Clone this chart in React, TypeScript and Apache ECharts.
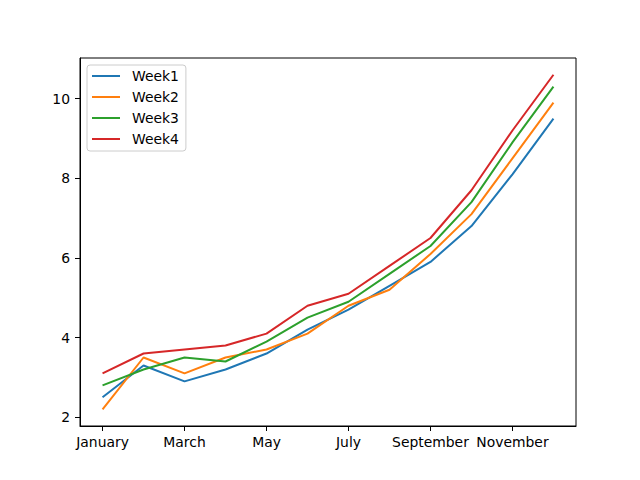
import React, { useEffect, useRef } from "react";
import * as echarts from "echarts";

const months = [
  "January", "February", "March", "April", "May", "June",
  "July", "August", "September", "October", "November", "December",
];
const seriesNames = ["Week1", "Week2", "Week3", "Week4"];
const week1 = [2.5, 3.3, 2.9, 3.2, 3.6, 4.2, 4.7, 5.3, 5.9, 6.8, 8.1, 9.5];
const week2 = [2.2, 3.5, 3.1, 3.5, 3.7, 4.1, 4.8, 5.2, 6.1, 7.1, 8.5, 9.9];
const week3 = [2.8, 3.2, 3.5, 3.4, 3.9, 4.5, 4.9, 5.6, 6.3, 7.4, 8.9, 10.3];
const week4 = [3.1, 3.6, 3.7, 3.8, 4.1, 4.8, 5.1, 5.8, 6.5, 7.7, 9.2, 10.6];
const xTicks = [0, 2, 4, 6, 8, 10];
const yTicks = [2, 4, 6, 8, 10];
const colors = ["#1f77b4", "#ff7f0e", "#2ca02c", "#d62728"];

const font = "DejaVu Sans";

const App: React.FC = () => {
  const chartRef = useRef<HTMLDivElement>(null);

  useEffect(() => {
    if (!chartRef.current) return;
    const chart = echarts.init(chartRef.current, undefined, { renderer: "svg" });

    const allWeeks = [week1, week2, week3, week4];

    chart.setOption({
      animation: false,
      backgroundColor: "#fff",
      color: colors,
      grid: {
        left: 80,
        right: 64,
        top: 58,
        bottom: 54,
        show: true,
        borderColor: "#000",
        borderWidth: 1,
      },
      legend: {
        orient: "vertical",
        left: 87,
        top: 65,
        data: seriesNames,
        // plain line handle, like matplotlib's legend
        icon: "path://M0,0 L28,0 L28,2 L0,2 Z",
        itemWidth: 28,
        itemHeight: 14,
        itemGap: 7,
        padding: [4, 7, 5, 5],
        backgroundColor: "#fff",
        borderColor: "#cccccc",
        borderWidth: 1,
        borderRadius: 3,
        textStyle: {
          fontFamily: font,
          fontSize: 13.9,
          color: "#000",
          padding: [0, 0, 0, 7],
        },
      },
      xAxis: {
        type: "value",
        min: -0.55,
        max: 11.55,
        splitLine: { show: false },
        axisLine: { onZero: false, lineStyle: { color: "#000", width: 1 } },
        axisTick: {
          customValues: xTicks,
          length: 5,
          lineStyle: { color: "#000" },
        },
        axisLabel: {
          customValues: xTicks,
          formatter: (v: number) => months[Math.round(v)],
          margin: 9,
          fontFamily: font,
          fontSize: 13.9,
          color: "#000",
        },
      },
      yAxis: {
        type: "value",
        min: 1.78,
        max: 11.02,
        splitLine: { show: false },
        axisLine: { show: true, onZero: false, lineStyle: { color: "#000", width: 1 } },
        axisTick: {
          show: true,
          customValues: yTicks,
          length: 5,
          lineStyle: { color: "#000" },
        },
        axisLabel: {
          customValues: yTicks,
          margin: 10,
          fontFamily: font,
          fontSize: 13.9,
          color: "#000",
        },
      },
      series: seriesNames.map((name, i) => ({
        name,
        type: "line",
        symbol: "none",
        lineStyle: { width: 2 },
        data: allWeeks[i].map((v, idx) => [idx, v]),
      })),
    });

    return () => {
      chart.dispose();
    };
  }, []);

  return (
    <div
      ref={chartRef}
      style={{ position: "absolute", left: 0, top: 0, width: 640, height: 480 }}
    />
  );
};

export default App;
